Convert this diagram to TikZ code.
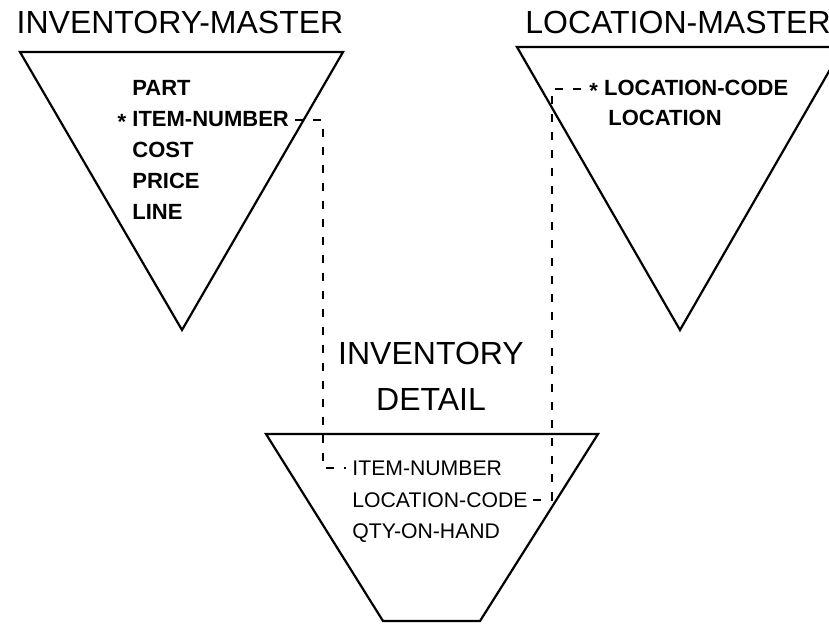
\documentclass[tikz,border=0pt]{standalone}
\usepackage{fontspec}
\setmainfont{Liberation Sans}
\usetikzlibrary{calc}

\tikzset{
  title/.style={font=\fontsize{16}{23}\selectfont, inner sep=0pt},
  field/.style={font=\fontsize{11}{11}\selectfont\bfseries, inner sep=0pt, anchor=base west},
  dfield/.style={font=\fontsize{10.6}{11}\selectfont, inner sep=0pt, anchor=base west},
  file/.style={line width=1.1pt, line join=miter},
  link/.style={line width=1pt, dash pattern=on 4pt off 5pt},
}
\newcommand{\keymark}{\raisebox{-.18em}{*}}

\begin{document}
\begin{tikzpicture}[x=0.5pt,y=-0.5pt]
          \useasboundingbox (0,0) rectangle (829,623);
   % the three files
             \draw[file] (20,52) -- (343,52) -- (182,330) -- cycle;
             \draw[file] (517,47) -- (843,47) -- (680,330) -- cycle;
             \draw[file] (266,434) -- (598,434) -- (480,621) -- (383,621) -- cycle;

   % titles
             \node[title, anchor=base] (imtitle) at (180,33) {INVENTORY-MASTER};
             \node[title, anchor=base west] (lmtitle) at (525,33) {LOCATION-MASTER};
             \node[title, align=center, anchor=north] (idtitle) at (431,342) {INVENTORY\\DETAIL};

   % inventory-master fields
             \node[field] (impart) at (132,95) {PART};
             \node[field] (imitem) at (132,126) {\llap{\keymark\ }ITEM-NUMBER};
   \foreach \f/\y in {cost/157,price/188,line/219}
             {
               \node[field] (im\f) at (132,\y) {\MakeUppercase{\f}};
             }

   % location-master fields
             \node[field] (lmcode) at (589,95) {\keymark\ LOCATION-CODE};
             \node[field] (lmloc) at (608,125) {LOCATION};

   % inventory detail fields
             \node[dfield] (ditem) at (352,475) {ITEM-NUMBER};
             \node[dfield] (dcode) at (352,507) {LOCATION-CODE};
             \node[dfield] (dqty) at (352,538) {QTY-ON-HAND};

   % links between the keys
             \coordinate (lbus) at (323,300);
             \coordinate (rbus) at (552,300);
             \draw[link, shorten <=3pt, shorten >=3pt] (imitem.east) -| (lbus) |- (ditem.west);
             \draw[link, shorten <=4pt, shorten >=2pt] (lmcode.west) -| (rbus) |- (dcode.east);
\end{tikzpicture}
\end{document}
